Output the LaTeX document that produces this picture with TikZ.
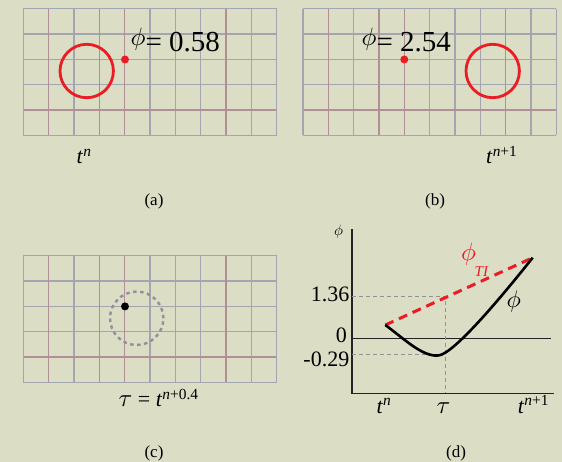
\documentclass[tikz,border=0pt]{standalone}
\usepackage{graphicx}
\usepackage{fontspec}
\setmainfont{Liberation Serif}
\usepackage{tikz}
\usetikzlibrary{positioning, calc}

\definecolor{paper}{RGB}{219,221,197}
\definecolor{gridgray}{RGB}{163,166,176}
\definecolor{gridrose}{RGB}{176,143,150}
\definecolor{markred}{RGB}{236,28,36}
\definecolor{guide}{RGB}{145,145,150}
\definecolor{ink}{RGB}{35,35,35}

% greek letter from the 10pt math font, scaled up
\newcommand{\gk}[2]{\scalebox{#1}{\fontsize{10}{12}\selectfont$#2$}}

\tikzset{
  gridline/.style={gridgray, line width=1.2pt},
  roseline/.style={gridrose, line width=1.3pt},
  bubble/.style={markred, line width=2.8pt},
  ghost/.style={guide, line width=2.4pt, dash pattern=on 3.5pt off 3.5pt},
  axisline/.style={ink, line width=1.3pt},
  guideline/.style={guide, line width=1pt, dash pattern=on 4pt off 3pt},
  biglabel/.style={font=\fontsize{29}{32}\selectfont, inner sep=0pt},
  tlabel/.style={font=\fontsize{22}{24}\selectfont, inner sep=0pt},
  numlabel/.style={font=\fontsize{22}{24}\selectfont, inner sep=0pt},
  caption/.style={font=\fontsize{17}{20}\selectfont, inner sep=0pt}
}

\begin{document}
\begin{tikzpicture}[x=1pt, y=-1pt]
  % Page and background
  \fill[paper] (0,0) rectangle (562,462);
  \useasboundingbox (0,0) rectangle (562,462);

  % Three grids (a), (b), (c)
  \foreach \ox/\oy in {23.3/8.7, 303/8.7, 23.3/255.7} {
    \begin{scope}[shift={(\ox,\oy)}]
      \foreach \i in {0,...,10}
        \draw[gridline] (\i*25.33,0) -- (\i*25.33,126.6);
      \foreach \j in {0,...,5}
        \draw[gridline] (0,\j*25.33) -- (253.3,\j*25.33);
      \foreach \i in {1,3,4,8}
        \draw[roseline] (\i*25.33,0.6) -- (\i*25.33,126);
      \draw[roseline] (0.6,4*25.33) -- (252.7,4*25.33);
    \end{scope}
  }

  % (a) interface at t^n
  \coordinate (cA) at (86.7,71);
  \coordinate (pA) at (125,59.5);
  \draw[bubble] (cA) circle (26.7pt);
  \fill[markred] (pA) circle (4pt);
  \node[biglabel, anchor=base west] (phiA) at (130.5,51.7) {\raisebox{6.6pt}{\gk{2.5}{\phi}}= 0.58};
  \node[tlabel, anchor=base west] (tA) at (76.5,164) {\textit{t}\textsuperscript{\textit{n}}};
  \node[caption, anchor=base] (capA) at (154,206) {(a)};

  % (b) interface at t^{n+1}
  \coordinate (cB) at (492.7,71);
  \coordinate (pB) at (404.3,59.5);
  \draw[bubble] (cB) circle (26.7pt);
  \fill[markred] (pB) circle (4pt);
  \node[biglabel, anchor=base west] (phiB) at (361.5,51.7) {\raisebox{6.6pt}{\gk{2.5}{\phi}}= 2.54};
  \node[tlabel, anchor=base west] (tB) at (486,164) {\textit{t}\textsuperscript{\textit{n}+1}};
  \node[caption, anchor=base] (capB) at (435,206) {(b)};

  % (c) interface at tau
  \coordinate (cC) at (136.7,318.3);
  \coordinate (pC) at (125,306.4);
  \draw[ghost] (cC) circle (26.7pt);
  \fill[black] (pC) circle (4pt);
  \node[tlabel, anchor=base west] (tauC) at (118.5,406.7) {\gk{2.5}{\tau} = \textit{t}\textsuperscript{\textit{n}+0.4}};
  \node[caption, anchor=base] (capC) at (154,457) {(c)};

  % (d) phi against time
  \coordinate (top) at (352,229);
  \coordinate (org) at (352,393.3);
  \coordinate (xend) at (554.3,393.3);
  \coordinate (z0) at (352,338.3);
  \coordinate (z1) at (551,338.3);
  \draw[axisline] (top) -- (org) -- (xend);
  \draw[axisline] (z0) -- (z1);

  % guides for tau
  \coordinate (yhi) at (352,296.7);
  \coordinate (hi) at (445.3,296.7);
  \coordinate (tau) at (445.3,393.3);
  \coordinate (ylo) at (352,354.3);
  \coordinate (lo) at (436,354.3);
  \draw[guideline] (yhi) -- (hi) -- (tau);
  \draw[guideline] (ylo) -- (lo);

  % linear interpolation and true curve
  \coordinate (s) at (385.3,325);
  \coordinate (e) at (532.7,257.7);
  \coordinate (m) at (438,355.5);
  \draw[markred, line width=3pt, dash pattern=on 9pt off 6pt] (s) -- (e);
  \draw[black, line width=2.6pt] (s) .. controls (402,337) and (422,357) .. (m)
    .. controls (452,355) and (495,305) .. (e);

  % axis labels
  \node[inner sep=0pt] (phiAx) at (338.5,231.5) {\gk{1.5}{\phi}};
  \node[numlabel, anchor=base east] (v136) at (349.5,301.7) {1.36};
  \node[numlabel, anchor=base east] (v0) at (347,342.7) {0};
  \node[numlabel, anchor=base east] (vneg) at (349.5,366.7) {-0.29};
  \node[tlabel, anchor=base] (tn) at (384,413) {\textit{t}\textsuperscript{\textit{n}}};
  \node[inner sep=0pt, anchor=base] (ttau) at (443.5,413) {\gk{2.5}{\tau}};
  \node[tlabel, anchor=base] (tn1) at (533.5,413) {\textit{t}\textsuperscript{\textit{n}+1}};

  % curve labels
  \node[inner sep=0pt, anchor=base west, markred] (phiTI) at (461,260.5) {\gk{2.5}{\phi}};
  \node[font=\fontsize{15}{16}\selectfont, inner sep=0pt, anchor=base west, markred] (subTI) at (474.5,276.5) {\textit{TI}};
  \node[inner sep=0pt, anchor=base west] (phiT) at (506.5,308) {\gk{2.4}{\phi}};
  \node[caption, anchor=base] (capD) at (456,457) {(d)};
\end{tikzpicture}
\end{document}
